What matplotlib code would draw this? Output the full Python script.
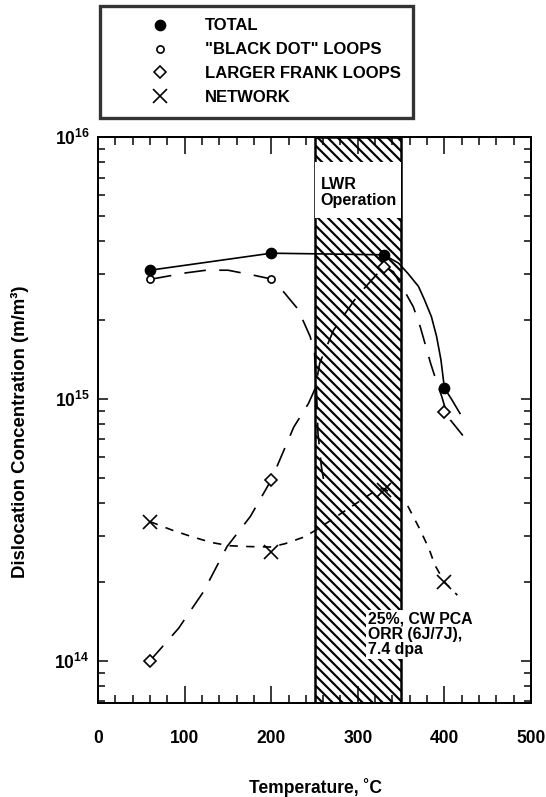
import numpy as np
import matplotlib
matplotlib.use("Agg")
import matplotlib.pyplot as plt
from matplotlib.lines import Line2D
from matplotlib.patches import Rectangle
from matplotlib.transforms import blended_transform_factory

plt.rcParams['font.family'] = ['Liberation Sans', 'DejaVu Sans']
plt.rcParams['font.weight'] = 'bold'
plt.rcParams['axes.labelweight'] = 'bold'
plt.rcParams['mathtext.fontset'] = 'custom'
plt.rcParams['mathtext.rm'] = 'Liberation Sans:bold'
plt.rcParams['mathtext.bf'] = 'Liberation Sans:bold'
plt.rcParams['mathtext.default'] = 'bf'
plt.rcParams['hatch.linewidth'] = 1.3

# measured points
T = [60, 200, 330, 400]
total = [3.1e15, 3.6e15, 3.55e15, 1.1e15]
T_bd = [60, 200]
black_dot = [2.86e15, 2.87e15]
frank = [1.0e14, 4.9e14, 3.2e15, 8.9e14]
network = [3.4e14, 2.6e14, 4.5e14, 2.0e14]

# hand-drawn guide curves
total_T = [60, 200, 330, 347, 358, 370, 377, 385, 391, 396, 400, 408, 418]
total_c = [3.1e15, 3.6e15, 3.55e15, 3.3e15, 3.01e15, 2.69e15, 2.39e15,
           2.06e15, 1.73e15, 1.41e15, 1.1e15, 1.0e15, 8.8e14]
bd_T = [60, 102, 125, 150, 179, 200, 214, 231, 245, 250, 252, 254, 258, 263]
bd_c = [2.86e15, 3.03e15, 3.1e15, 3.1e15, 2.97e15, 2.87e15, 2.57e15,
        2.2e15, 1.73e15, 1.5e15, 1.15e15, 7.4e14, 5.5e14, 4.4e14]
fr_T = [60, 93, 122, 149, 176, 200, 226, 243, 251, 256, 272, 299, 330,
        341, 352, 364, 372, 378, 384, 391, 397, 401, 407, 422]
fr_c = [1.0e14, 1.33e14, 1.84e14, 2.73e14, 3.56e14, 4.9e14, 7.8e14, 9.6e14,
        1.1e15, 1.37e15, 1.83e15, 2.46e15, 3.2e15, 3.06e15, 2.65e15, 2.25e15,
        1.89e15, 1.61e15, 1.37e15, 1.16e15, 1.02e15, 9.2e14, 8.3e14, 7.2e14]
nw_T = [60, 85, 108, 131, 152, 174, 200, 216, 238, 252, 322, 330, 356, 371,
        382, 389, 400, 415]
nw_c = [3.4e14, 3.16e14, 2.98e14, 2.83e14, 2.75e14, 2.73e14, 2.72e14, 2.8e14,
        2.97e14, 3.16e14, 4.5e14, 4.55e14, 4.0e14, 3.21e14, 2.69e14, 2.32e14,
        2.0e14, 1.78e14]

fig = plt.figure(figsize=(546/120, 797/120), dpi=120)
ax = fig.add_axes([98/546, 1-703/797, 433/546, 566/797])

ax.axvspan(250, 350, facecolor='white', edgecolor='black', hatch='\\\\\\\\',
           linewidth=1.5, zorder=1)

lw = 1.0
ax.plot(total_T, total_c, '-', color='black', lw=lw, zorder=3)
ax.plot(bd_T, bd_c, color='black', lw=lw, dashes=(13, 8), zorder=3)
ax.plot(fr_T, fr_c, color='black', lw=lw, dashes=(12, 8), zorder=3)
ax.plot(nw_T, nw_c, color='black', lw=lw, dashes=(5, 5), zorder=3)

ax.plot(T, total, 'o', color='black', ms=6, zorder=4)
ax.plot(T_bd, black_dot, 'o', mfc='white', mec='black', mew=1.0, ms=4.3, zorder=4)
ax.plot(T, frank, 'D', mfc='white', mec='black', mew=1.0, ms=5.5, zorder=4)
ax.plot(T, network, 'x', color='black', mew=1.0, ms=8, zorder=4)

ax.set_yscale('log')
ax.set_xlim(0, 500)
ax.set_ylim(6.9e13, 1e16)
ax.set_xticks([0, 100, 200, 300, 400, 500])
ax.set_xticks(np.arange(0, 501, 20), minor=True)
ax.set_yticks([1e14, 1e15, 1e16],
              labels=[r'$10^{14}$', r'$10^{15}$', r'$10^{16}$'])
ax.tick_params(which='both', direction='in', top=True, right=True, width=0.9)
ax.tick_params(axis='x', which='major', length=10, pad=16, labelsize=10.5)
ax.tick_params(axis='x', which='minor', length=4.8)
ax.tick_params(axis='y', which='major', length=6, pad=5, labelsize=10.5)
ax.tick_params(axis='y', which='minor', length=4.2, labelleft=False)
for s in ax.spines.values():
    s.set_linewidth(1.2)

ax.set_xlabel('Temperature, ˚C', fontsize=10.5, fontweight='bold')
ax.set_ylabel('Dislocation Concentration (m/m³)', fontsize=11.2, fontweight='bold')
ax.xaxis.set_label_coords(0.503, -0.1325)
ax.yaxis.set_label_coords(-0.159, 0.479)

tr = blended_transform_factory(ax.transData, ax.transAxes)
ax.add_patch(Rectangle((250, 0.857), 100, 0.099, transform=tr,
                       facecolor='white', edgecolor='none', zorder=2))
ax.text(257, 0.929, 'LWR\nOperation', transform=tr, va='top', ha='left',
        fontsize=9.7, linespacing=1.05, zorder=5)
ax.text(312, 0.161, '25%, CW PCA\nORR (6J/7J),\n7.4 dpa', transform=tr,
        va='top', ha='left', fontsize=9.5, linespacing=1.0, zorder=5,
        bbox=dict(facecolor='white', edgecolor='none', pad=1))

handles = [
    Line2D([], [], ls='none', marker='o', color='black', ms=6),
    Line2D([], [], ls='none', marker='o', mfc='white', mec='black', ms=4.3),
    Line2D([], [], ls='none', marker='D', mfc='white', mec='black', ms=5.5),
    Line2D([], [], ls='none', marker='x', color='black', ms=8),
]
labels = ['TOTAL', '"BLACK DOT" LOOPS', 'LARGER FRANK LOOPS', 'NETWORK']
leg = fig.legend(handles, labels, loc='upper left',
                 bbox_to_anchor=(100/546, 1-6/797), fontsize=10,
                 frameon=True, fancybox=False, edgecolor='black',
                 borderpad=0.75, handlelength=5.7, handletextpad=-0.15,
                 labelspacing=0.53, borderaxespad=0)
leg.get_frame().set_linewidth(2.0)

fig.savefig('out.png', dpi=120)
